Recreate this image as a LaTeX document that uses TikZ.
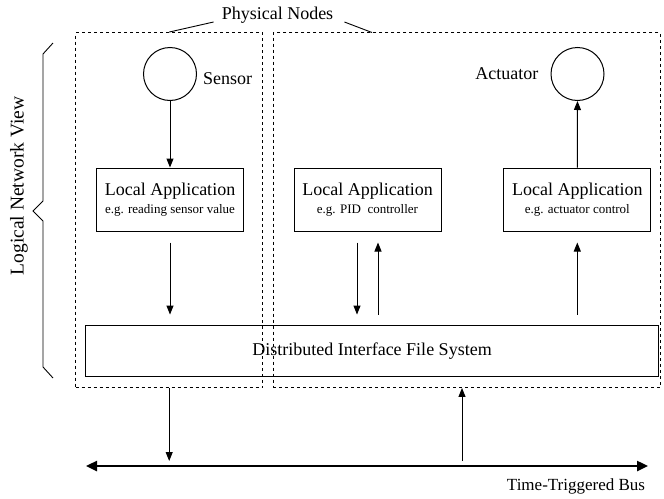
\documentclass[tikz,border=0pt]{standalone}
\usepackage{fontspec}
\setmainfont{Liberation Serif}
\usetikzlibrary{positioning, arrows.meta}

\tikzset{physbox/.style={draw, dashed, dash pattern=on 3pt off 3pt, line width=0.9pt, inner sep=0pt}}
\tikzset{appbox/.style={draw, line width=1pt, minimum width=147pt, minimum height=63pt, inner sep=0pt, align=center, font=\fontsize{18}{19}\selectfont}}
\tikzset{flow/.style={line width=1pt, -{Triangle[length=9pt,width=7pt]}}}
\tikzset{lbl/.style={inner sep=0pt, font=\fontsize{18}{20}\selectfont}}

\begin{document}
\begin{tikzpicture}[x=1pt,y=-1pt]
  \useasboundingbox (0,0) rectangle (664,498);
  % physical nodes
  \node[physbox, minimum width=187pt, minimum height=355pt] (leftnode) at (169.2,210) {};
  \node[physbox, minimum width=387pt, minimum height=355pt] (rightnode) at (466.9,210) {};
  \node[lbl] (title) at (277.5,15) {Physical Nodes};
  \coordinate (rtop) at (372,32.5);
  \draw[line width=0.9pt] (title.west) ++(-8,7) -- (leftnode.north);
  \draw[line width=0.9pt] (title.east) ++(11,7) -- (rtop);
  % sensor and actuator
  \node[circle, draw, line width=1pt, minimum size=53pt, inner sep=0pt] (sensor) at (170,74) {};
  \node[circle, draw, line width=1pt, minimum size=53pt, inner sep=0pt] (actuator) at (577.5,74) {};
  \node[lbl, right=6pt of sensor, yshift=-5pt] (senslbl) {Sensor};
  \node[lbl, left=12pt of actuator] (actlbl) {Actuator};
  % local applications
  \node[appbox] (sensapp) at (170,199.5) {Local Application\\[-1pt]{\fontsize{13}{14}\selectfont e.g. reading sensor value}};
  \node[appbox] (pidapp) at (367.5,199.5) {Local Application\\[-1pt]{\fontsize{13}{14}\selectfont e.g. PID\ \ controller}};
  \node[appbox] (actapp) at (577.3,199.5) {Local Application\\[-1pt]{\fontsize{13}{14}\selectfont e.g. actuator control}};
  \node[draw, line width=1pt, minimum width=572.6pt, minimum height=51.7pt, font=\fontsize{18}{20}\selectfont] (difs) at (372,350.9) {Distributed Interface File System};
  % flows
  \draw[flow] (sensor) -- (sensapp);
  \draw[flow] (actapp) -- (actuator);
  \draw[flow, shorten <=11pt, shorten >=10pt] (sensapp.south) -- (sensapp.south |- difs.north);
  \draw[flow, shorten <=11pt, shorten >=10pt] ([xshift=-10.5pt]pidapp.south) -- ([xshift=-10.5pt]pidapp.south |- difs.north);
  \draw[flow, shorten <=10pt, shorten >=11pt] ([xshift=10.5pt]pidapp.south |- difs.north) -- ([xshift=10.5pt]pidapp.south);
  \draw[flow, shorten <=10pt, shorten >=11pt] (actapp.south |- difs.north) -- (actapp.south);
  % bus
  \coordinate (busw) at (86,466);
  \coordinate (buse) at (648,466);
  \coordinate (tap) at (462,466);
  \draw[line width=2.4pt, {Triangle[length=11pt,width=10pt]}-{Triangle[length=11pt,width=10pt]}] (busw) -- (buse);
  \draw[flow, shorten >=5pt] (leftnode.south) -- (leftnode.south |- busw);
  \draw[flow, shorten <=5pt] (tap) -- (tap |- rightnode.south);
  \node[lbl, font=\fontsize{17}{19}\selectfont] (buslbl) at (576,486) {Time-Triggered Bus};
  % logical view
  \draw[line width=0.9pt] (53,43) -- (43,54) -- (43,201) -- (33,211) -- (43,221) -- (43,367) -- (53,378);
  \node[lbl, rotate=90, font=\fontsize{19.5}{21}\selectfont] (logical) at (19,186) {Logical Network View};
\end{tikzpicture}
\end{document}
